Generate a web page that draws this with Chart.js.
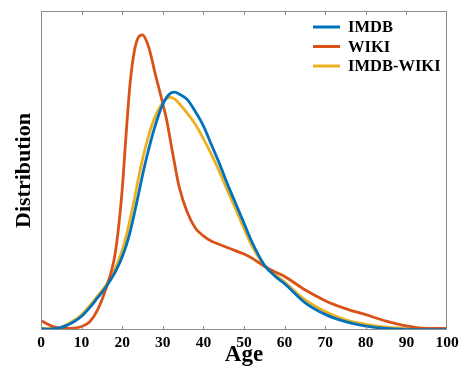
<!DOCTYPE html>
<html>
<head>
<meta charset="utf-8">
<script src="https://cdn.jsdelivr.net/npm/chart.js@4/dist/chart.umd.min.js"></script>
<style>
  html, body { margin: 0; padding: 0; background: #fff; }
  #wrap { width: 465px; height: 367px; }
</style>
</head>
<body>
<div id="wrap"><canvas id="grafico"></canvas></div>
<script>
// dados (idade x distribuicao, escala relativa 0-100)
var idades = [0, 2, 5, 8, 10, 12, 14, 16, 18, 19, 20, 21, 22, 23, 24, 25, 26, 27, 28, 29, 30, 31, 32, 33, 34, 36, 38, 40, 42, 44, 46, 48, 50, 52, 55, 58, 60, 65, 70, 75, 80, 85, 90, 95, 100];
var imdb = [0.4, 0.3, 0.8, 2.5, 4.3, 7, 10.2, 13.5, 17.5, 20, 23, 26.5, 31, 36.5, 42.5, 48.5, 54, 59, 63.5, 67.5, 70.8, 73, 74.3, 74.6, 74, 72.3, 68.5, 64, 58, 52, 45.5, 39.5, 33.5, 27.5, 20.4, 16.5, 14.5, 8.6, 4.9, 2.6, 1.2, 0.5, 0.2, 0.1, 0.1];
var wiki = [3.0, 1.6, 0.5, 0.6, 1.1, 2.6, 6.5, 13, 22, 31, 44, 62, 78, 87.5, 91.8, 92.5, 90.5, 86.5, 81, 76, 71, 65.5, 58.5, 51.5, 45, 37, 32, 29.5, 27.8, 26.8, 25.8, 24.8, 23.8, 22.5, 20, 18, 16.8, 12.6, 9.2, 6.7, 4.8, 2.8, 1.3, 0.5, 0.5];
var imdbWiki = [0.6, 0.4, 0.9, 2.9, 4.8, 7.6, 10.8, 14, 18.5, 21.5, 25, 29.5, 35, 41, 47.5, 53.5, 58.5, 63, 66.5, 69.3, 71.3, 72.6, 72.9, 72.3, 71, 68, 64.5, 60, 55, 49.5, 43.5, 37.8, 31.8, 26.3, 20.3, 17, 15, 9.5, 5.8, 3.2, 1.8, 0.9, 0.4, 0.2, 0.2];
var nomes = ['IMDB', 'WIKI', 'IMDB-WIKI'];
var cores = ['#0072BD', '#D95319', '#EDB120'];

function pontos(valores) {
    return idades.map(function (x, i) { return { x: x, y: valores[i] }; });
}

var fonte = 'Liberation Serif, "Times New Roman", serif';

// caixa cinza, tracinhos internos e legenda
var moldura = {
    id: 'moldura',
    afterDatasetsDraw: function (chart) {
        var ctx = chart.ctx, a = chart.chartArea, sx = chart.scales.x;
        ctx.save();
        ctx.strokeStyle = '#8c8c8c';
        ctx.lineWidth = 1;
        ctx.strokeRect(a.left + 0.5, a.top + 0.5, a.right - a.left - 1, a.bottom - a.top - 1);
        for (var v = 10; v < 100; v += 10) {
            var px = Math.round(sx.getPixelForValue(v)) + 0.5;
            ctx.beginPath();
            ctx.moveTo(px, a.top); ctx.lineTo(px, a.top + 4);
            ctx.moveTo(px, a.bottom); ctx.lineTo(px, a.bottom - 4);
            ctx.stroke();
        }
        // legenda
        ctx.font = 'bold 16.5px ' + fonte;
        ctx.textBaseline = 'middle';
        ctx.fillStyle = '#000';
        nomes.forEach(function (n, i) {
            var y = 27 + i * 19.5;
            ctx.strokeStyle = cores[i];
            ctx.lineWidth = 3;
            ctx.beginPath();
            ctx.moveTo(313, y); ctx.lineTo(340, y);
            ctx.stroke();
            ctx.fillText(n, 348, y + 1);
        });
        ctx.restore();
    }
};

var ctx = document.getElementById('grafico').getContext('2d');
var grafico = new Chart(ctx, {
    type: 'line',
    data: {
        datasets: [
            { label: nomes[0], data: pontos(imdb), borderColor: cores[0] },
            { label: nomes[1], data: pontos(wiki), borderColor: cores[1] },
            { label: nomes[2], data: pontos(imdbWiki), borderColor: cores[2] }
        ]
    },
    options: {
        responsive: true,
        maintainAspectRatio: false,
        animation: false,
        layout: { padding: { left: 0, right: 18, top: 11, bottom: 0 } },
        elements: {
            point: { radius: 0 },
            line: { borderWidth: 2.8, cubicInterpolationMode: 'monotone', fill: false }
        },
        plugins: { legend: { display: false }, tooltip: { enabled: false } },
        scales: {
            x: {
                type: 'linear', min: 0, max: 100,
                grid: { display: false, drawTicks: false },
                border: { display: false },
                ticks: {
                    stepSize: 10, autoSkip: false, maxRotation: 0, padding: 4,
                    color: '#000', font: { family: fonte, size: 15.5, weight: 'bold' }
                },
                title: {
                    display: true, text: 'Age', color: '#000',
                    font: { family: fonte, size: 23, weight: 'bold', lineHeight: 1.0 },
                    padding: { top: 0, bottom: 0 }
                },
                afterFit: function (s) { s.height = 37; }
            },
            y: {
                min: 0, max: 100,
                grid: { display: false, drawTicks: false },
                border: { display: false },
                ticks: { display: false },
                title: {
                    display: true, text: 'Distribution', color: '#000',
                    font: { family: fonte, size: 22, weight: 'bold', lineHeight: 1.2 },
                    padding: { top: 11, bottom: 0 }
                },
                afterFit: function (s) { s.width = 41; }
            }
        }
    },
    plugins: [moldura]
});
</script>
</body>
</html>
